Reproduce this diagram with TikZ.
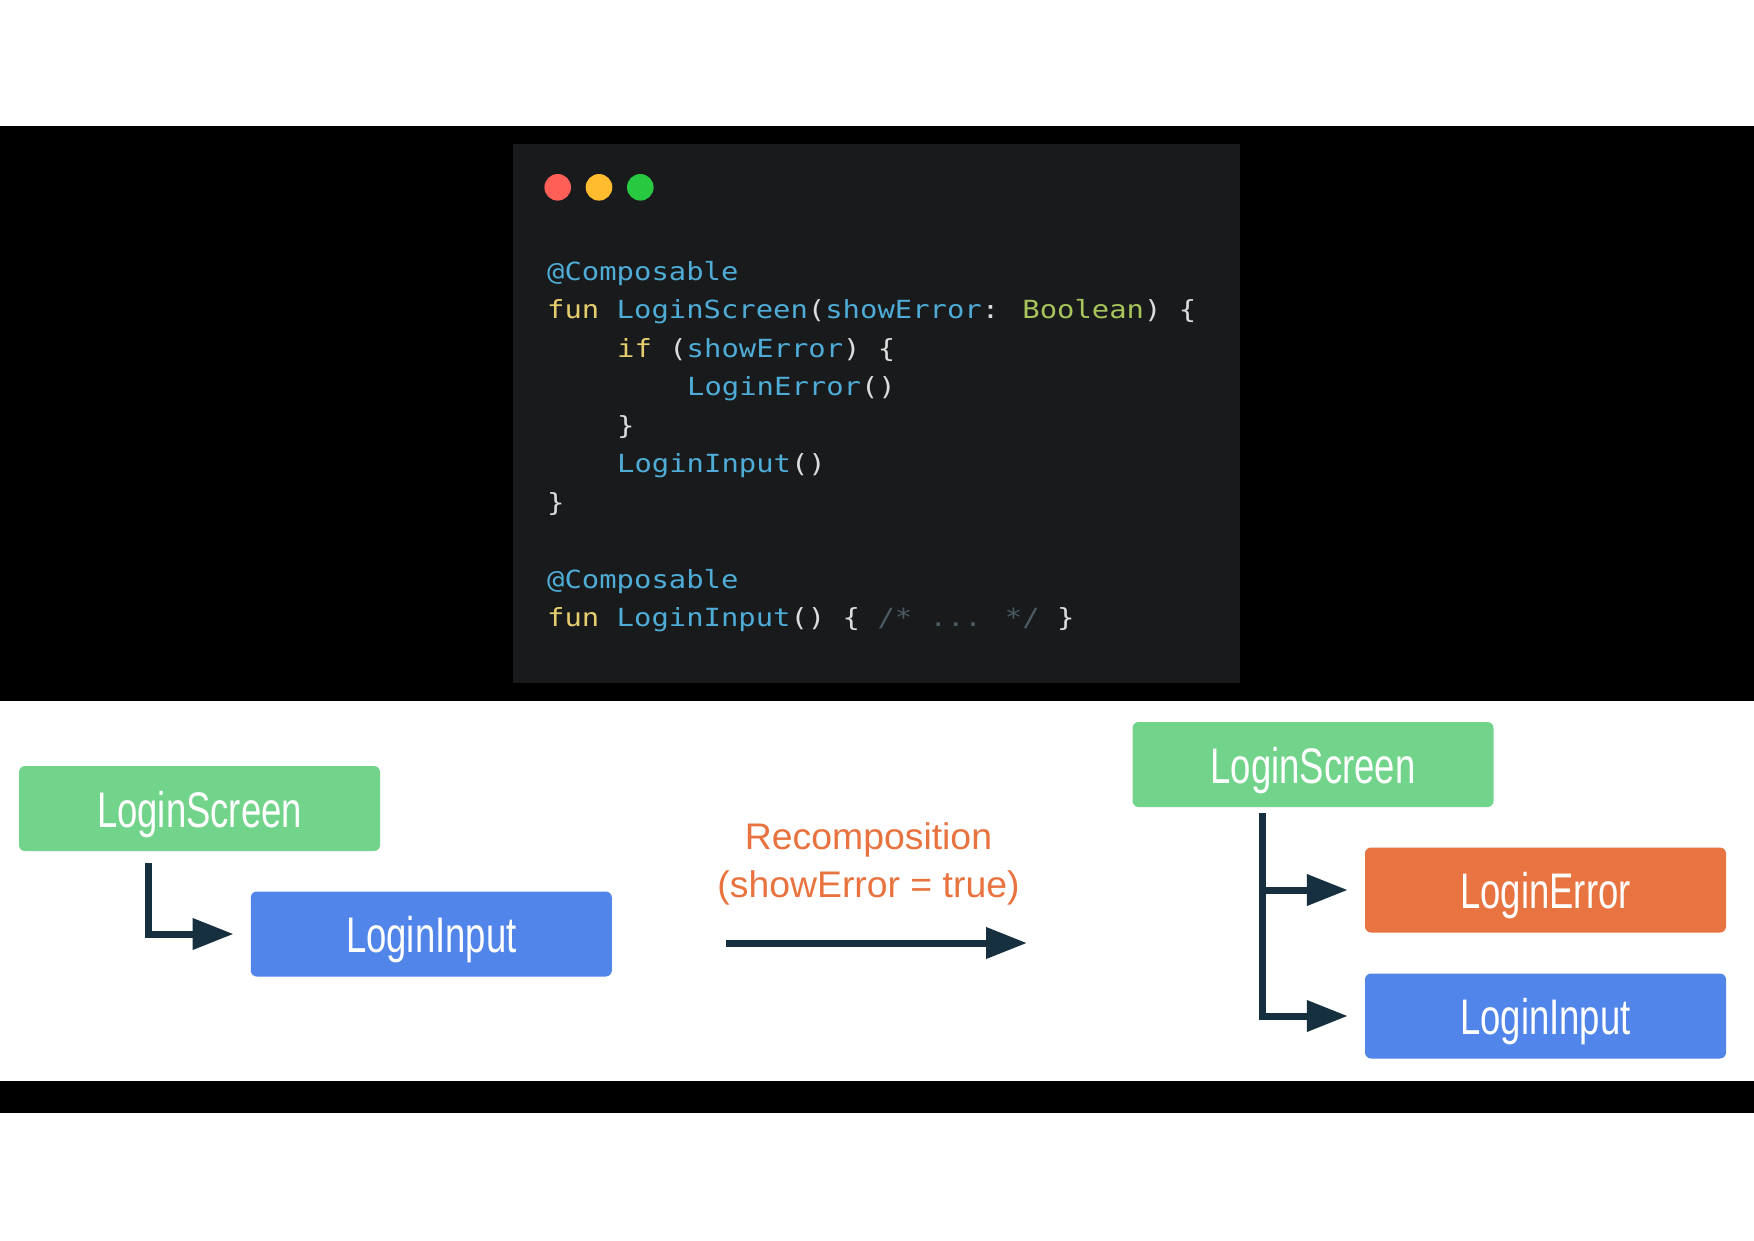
\documentclass[tikz,border=0pt]{standalone}
\usepackage{fontspec}
\usetikzlibrary{arrows.meta}
\newfontfamily\codefont[FakeStretch=1.155]{DejaVu Sans Mono}
\newfontfamily\boxfont[FakeStretch=0.73]{Liberation Sans}
\newfontfamily\recfont[FakeStretch=1.01]{Liberation Sans}
\definecolor{codebg}{HTML}{181A1C}
\definecolor{tlred}{HTML}{FF5F57}
\definecolor{tlyellow}{HTML}{FEBC2E}
\definecolor{tlgreen}{HTML}{28C840}
\definecolor{cid}{HTML}{4EACD6}
\definecolor{ckw}{HTML}{E6CD6E}
\definecolor{cty}{HTML}{A7C55A}
\definecolor{cpl}{HTML}{DCDCDC}
\definecolor{ccm}{HTML}{4A5A63}
\definecolor{boxgreen}{HTML}{71D48A}
\definecolor{boxblue}{HTML}{5185EA}
\definecolor{boxorange}{HTML}{E87441}
\definecolor{recorange}{HTML}{E8733F}
\definecolor{navy}{HTML}{17303F}
\newcommand\cdid[1]{\textcolor{cid}{#1}}
\newcommand\cdkw[1]{\textcolor{ckw}{#1}}
\newcommand\cdty[1]{\textcolor{cty}{#1}}
\newcommand\cdcm[1]{\textcolor{ccm}{#1}}
\begin{document}
\begin{tikzpicture}[x=1pt,y=-1pt,
  codeln/.style={anchor=base west, inner sep=0pt, text=cpl, font=\codefont\fontsize{25}{30}\selectfont},
  cbox/.style={rounded corners=6pt, minimum width=361pt, minimum height=85pt, inner sep=0pt,
    text=white, font=\boxfont\fontsize{50}{56}\selectfont, text height=37pt, text depth=0pt},
  conn/.style={draw=navy, line width=7pt, -{Triangle[length=41pt,width=30pt]}},
  rectext/.style={anchor=base, inner sep=0pt, text=recorange, font=\recfont\fontsize{37}{42}\selectfont}]
\useasboundingbox (0,0) rectangle (1754,1240);
\fill[white] (0,0) rectangle (1754,1240);
\fill[black] (0,126) rectangle (1754,701);
\fill[black] (0,1081) rectangle (1754,1113);
\fill[codebg] (513,144) rectangle (1240,683);
\fill[tlred] (557.7,187.3) circle (13.3pt);
\fill[tlyellow] (599,187.3) circle (13.3pt);
\fill[tlgreen] (640.3,187.3) circle (13.3pt);
% code
\node[codeln] (l1) at (547,280) {\cdid{@Composable}};
\node[codeln] (l2) at (547,318.5) {\cdkw{fun} \cdid{LoginScreen}(\cdid{showError}: \cdty{Boolean}) \{};
\node[codeln] (l3) at (617,357) {\cdkw{if} (\cdid{showError}) \{};
\node[codeln] (l4) at (687,395.5) {\cdid{LoginError}()};
\node[codeln] (l5) at (617,434) {\}};
\node[codeln] (l6) at (617,472.5) {\cdid{LoginInput}()};
\node[codeln] (l7) at (547,511) {\}};
\node[codeln] (l8) at (547,588) {\cdid{@Composable}};
\node[codeln] (l9) at (547,626.5) {\cdkw{fun} \cdid{LoginInput}() \{ \cdcm{/* ... */} \}};
% boxes
\node[cbox, fill=boxgreen] (ls1) at (199.5,808.5) {LoginScreen};
\node[cbox, fill=boxblue] (li1) at (431.3,934) {LoginInput};
\node[cbox, fill=boxgreen] (ls2) at (1313,764.5) {LoginScreen};
\node[cbox, fill=boxorange] (le2) at (1545.5,890) {LoginError};
\node[cbox, fill=boxblue] (li2) at (1545.5,1016) {LoginInput};
% connectors
\coordinate (c1) at (148,863);
\draw[conn, shorten >=17pt] (c1) |- (li1.west);
\coordinate (c2) at (1262,813);
\draw[conn, shorten >=17pt] (c2) |- (le2.west);
\draw[conn, shorten >=17pt] (c2) |- (li2.west);
\coordinate (a0) at (726,943);
\coordinate (a1) at (1027,943);
\draw[conn] (a0) -- (a1);
\node[rectext] (r1) at (868.5,849) {Recomposition};
\node[rectext] (r2) at (868.5,897) {(showError = true)};
\end{tikzpicture}
\end{document}
